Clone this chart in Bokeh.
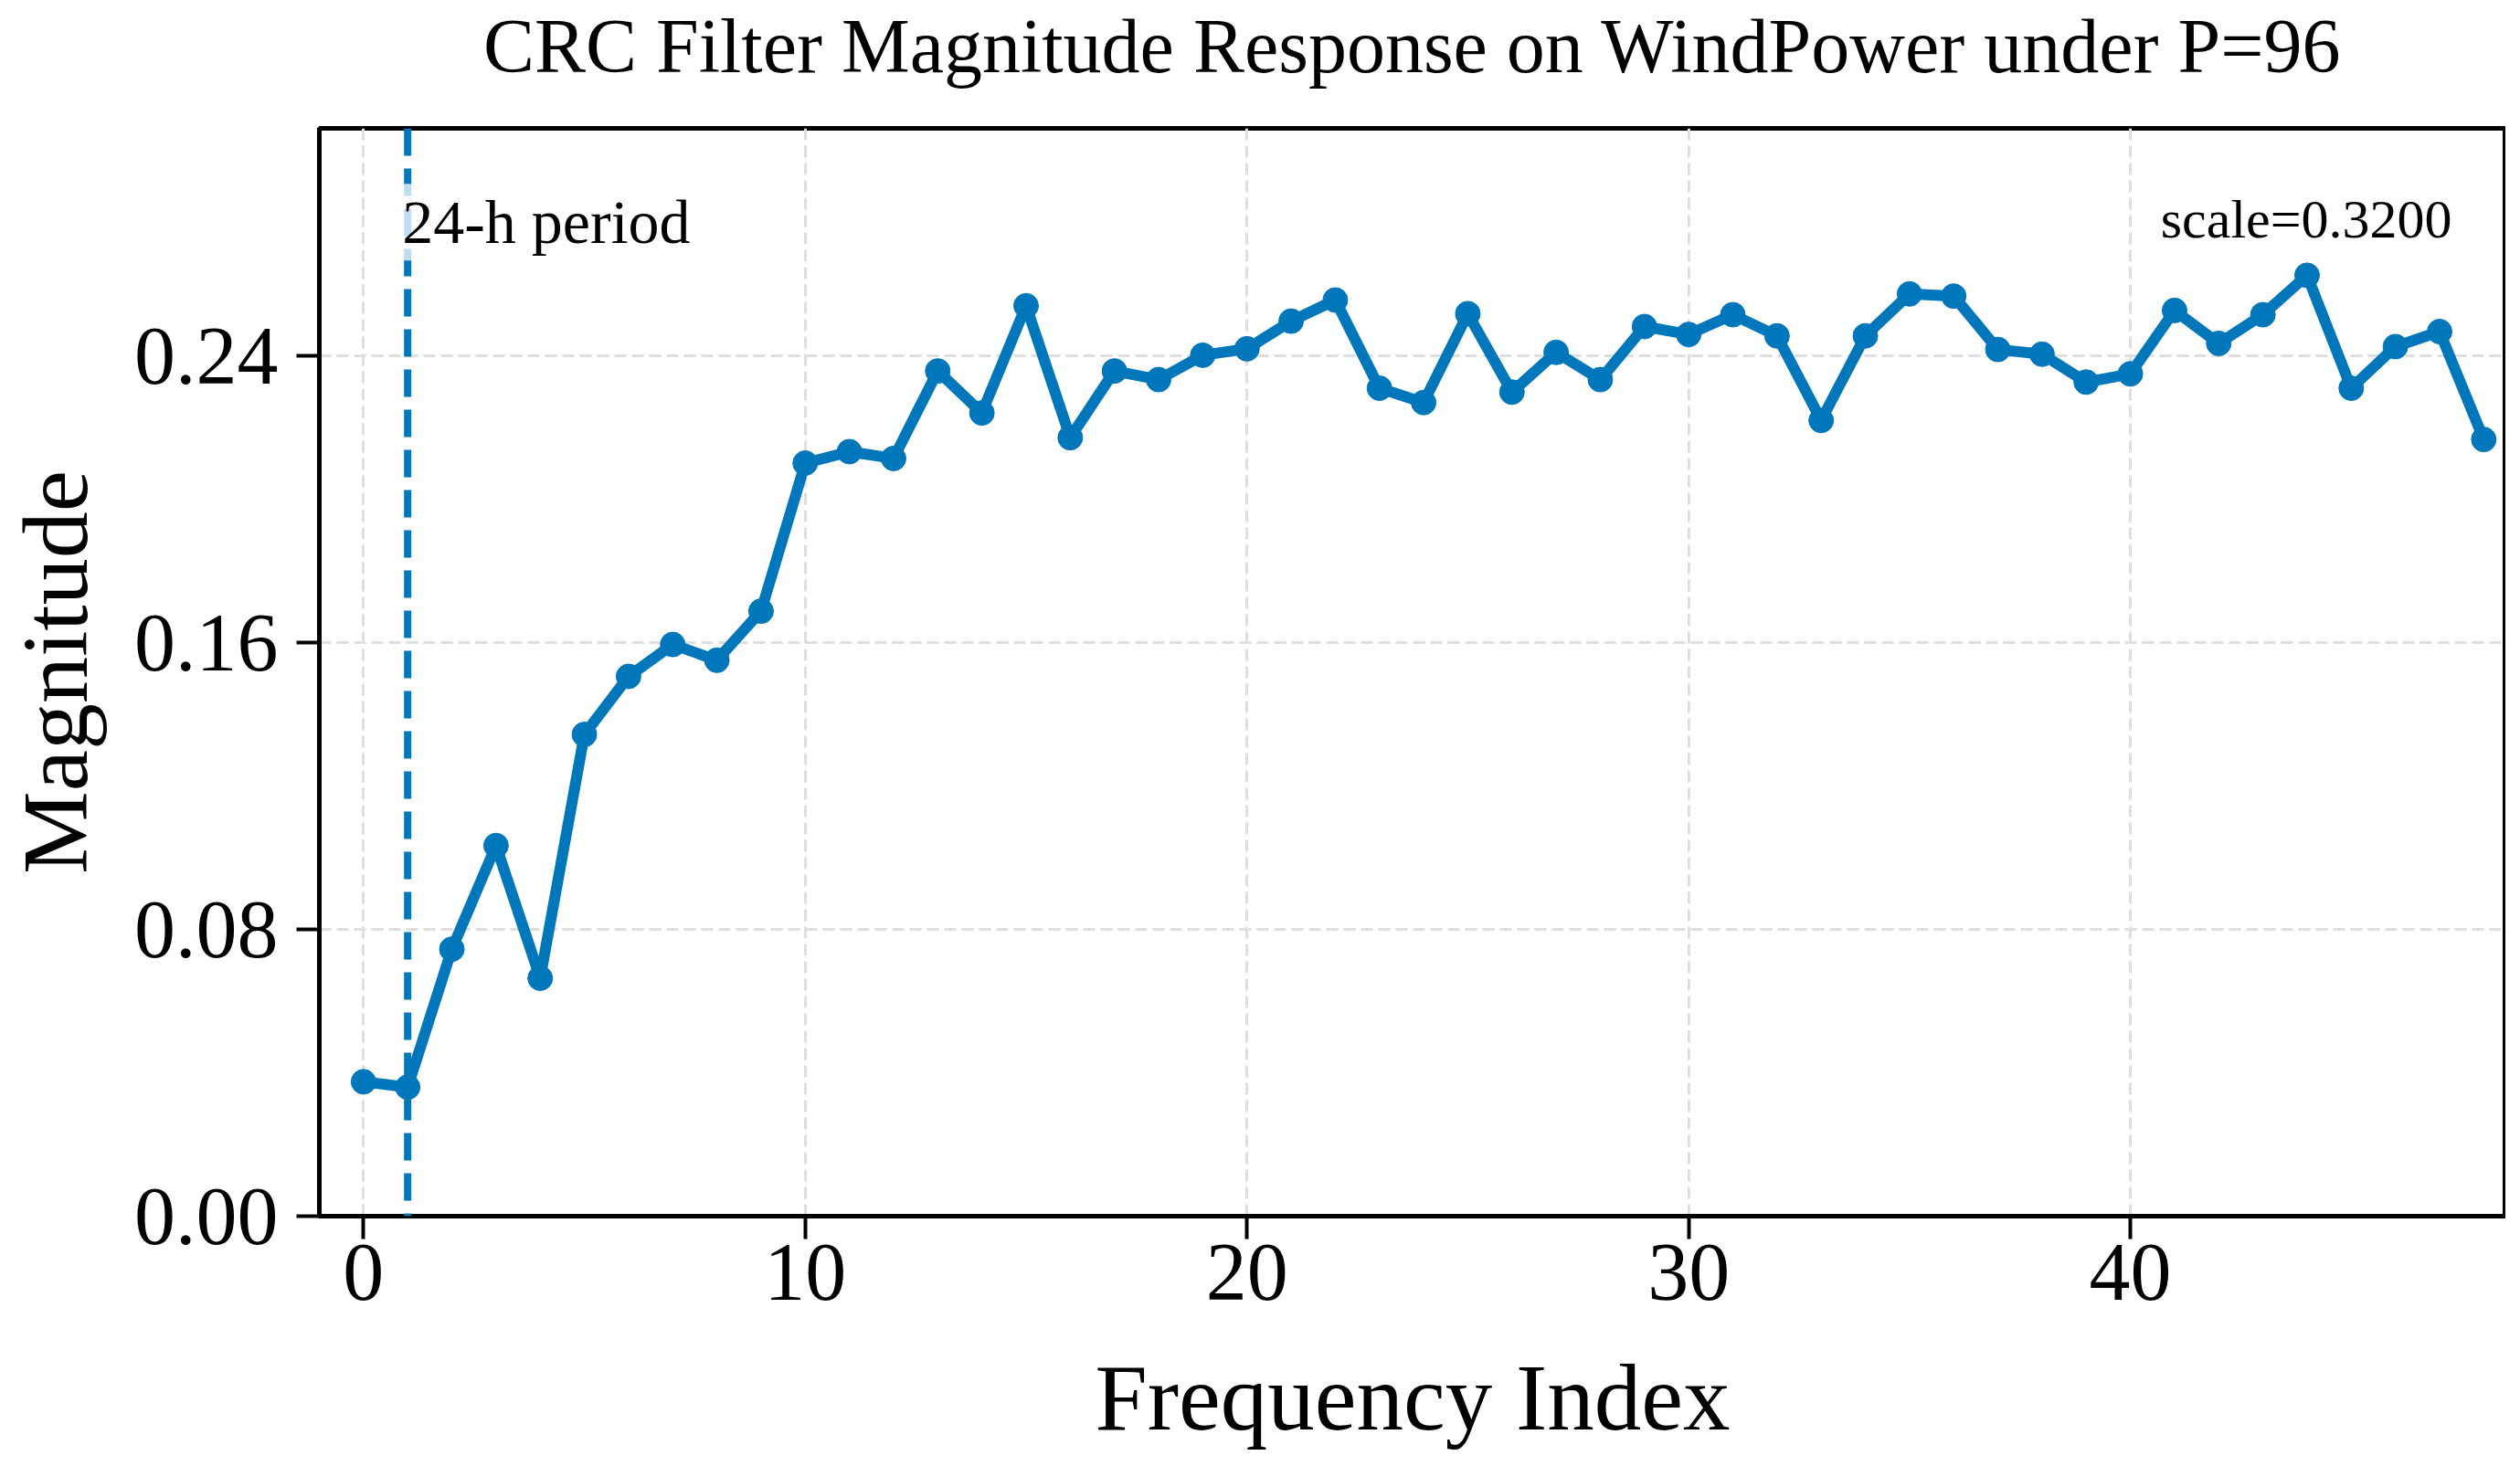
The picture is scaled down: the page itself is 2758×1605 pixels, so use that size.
from bokeh.plotting import figure
from bokeh.models import Range1d, Span, Label, FixedTicker, NumeralTickFormatter, LinearAxis
from bokeh.embed import file_html
from bokeh.resources import INLINE

# ---- data ----
freq_index = list(range(49))
magnitude = [
    0.0375, 0.0360, 0.0745, 0.1034, 0.0664, 0.1344, 0.1506, 0.1595, 0.1551, 0.1688,
    0.2101, 0.2133, 0.2114, 0.2358, 0.2241, 0.2540, 0.2172, 0.2358, 0.2334, 0.2402,
    0.2420, 0.2497, 0.2556, 0.2310, 0.2270, 0.2518, 0.2299, 0.2410, 0.2334, 0.2482,
    0.2460, 0.2515, 0.2456, 0.2220, 0.2456, 0.2573, 0.2567, 0.2418, 0.2405, 0.2327,
    0.2350, 0.2527, 0.2435, 0.2515, 0.2625, 0.2310, 0.2426, 0.2468, 0.2167,
]
period_index = 1
x_ticks = [0, 10, 20, 30, 40]
y_ticks = [0.0, 0.08, 0.16, 0.24]
scale_text = "scale=0.3200"
period_text = "24-h period"
title_text = "CRC Filter Magnitude Response on WindPower under P=96"
x_label = "Frequency Index"
y_label = "Magnitude"

X0, X1 = -1, 48.5
Y0, Y1 = 0.0, 0.3035
BLUE = "#0077BB"
FONT = "Liberation Serif"

p = figure(
    width=2742, height=1589,
    output_backend="svg", toolbar_location=None,
    x_range=Range1d(X0, X1), y_range=Range1d(Y0, Y1),
    min_border_left=348, min_border_right=0, min_border_top=140, min_border_bottom=254,
)
p.background_fill_color = "white"
p.border_fill_color = "white"
p.outline_line_color = "black"
p.outline_line_width = 5

xa = p.below[0]
ya = p.left[0]
for ax in (xa, ya):
    ax.axis_line_width = 5
    ax.axis_line_color = "black"
    ax.major_tick_line_width = 4
    ax.major_tick_line_color = "black"
    ax.major_tick_out = 25
    ax.major_tick_in = 0
    ax.minor_tick_line_color = None
    ax.major_label_text_font = FONT
    ax.major_label_text_font_size = "90px"
    ax.major_label_text_color = "black"
    ax.axis_label_text_font = FONT
    ax.axis_label_text_font_style = "normal"
    ax.axis_label_text_color = "black"

xa.axis_label = x_label
ya.axis_label = y_label
xa.axis_label_text_font_size = "103px"
ya.axis_label_text_font_size = "102px"
xa.major_label_standoff = 6
ya.major_label_standoff = 20
xa.axis_label_standoff = 47
ya.axis_label_standoff = 27
xa.ticker = FixedTicker(ticks=x_ticks)
ya.ticker = FixedTicker(ticks=y_ticks)
ya.formatter = NumeralTickFormatter(format="0.00")

# title rendered as the label of a tick-less axis above the frame
title_axis = LinearAxis(
    axis_label=title_text,
    ticker=FixedTicker(ticks=[]),
    axis_line_color=None,
    major_tick_line_color=None,
    minor_tick_line_color=None,
    major_tick_out=0, major_tick_in=0,
    minor_tick_out=0, minor_tick_in=0,
    major_label_standoff=0,
    axis_label_standoff=44,
    axis_label_text_font=FONT,
    axis_label_text_font_size="84px",
    axis_label_text_font_style="normal",
    axis_label_text_color="black",
)
p.add_layout(title_axis, "above")

for g in (p.xgrid[0], p.ygrid[0]):
    g.grid_line_color = "#dedede"
    g.grid_line_width = 3
    g.grid_line_dash = "13 6"

p.line(freq_index, magnitude, line_color=BLUE, line_width=12)
p.scatter(freq_index, magnitude, size=27, fill_color=BLUE, line_color=BLUE)

p.add_layout(Span(location=period_index, dimension="height", line_color=BLUE,
                  line_width=8, line_dash="30 14"))

p.add_layout(Label(x=period_index, y=0.2712, x_offset=-10, y_offset=24, text=period_text,
                   text_font=FONT, text_font_size="68px", text_color="black",
                   text_baseline="alphabetic", text_align="left",
                   background_fill_color="white", background_fill_alpha=0.75,
                   padding=4))
p.add_layout(Label(x=47.28, y=0.2723, y_offset=23, text=scale_text,
                   text_font=FONT, text_font_size="60px", text_color="black",
                   text_baseline="alphabetic", text_align="right"))

open("out.html", "w").write(file_html(p, INLINE))
